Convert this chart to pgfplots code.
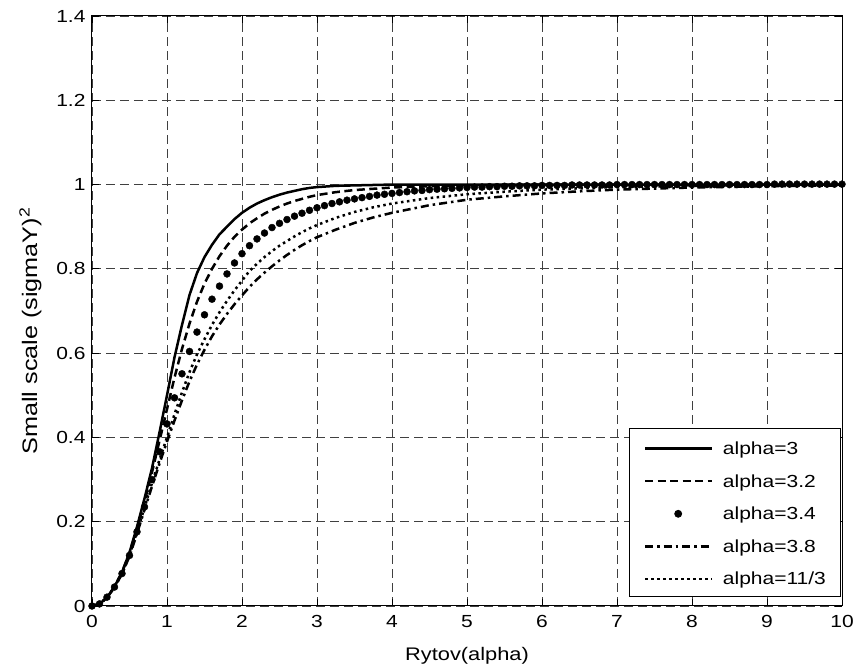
\documentclass[border=0pt]{standalone}
\usepackage{fontspec}
\setmainfont{Liberation Sans}[FakeStretch=1.2]
\usepackage{pgfplots}
\pgfplotsset{compat=1.18}

\begin{document}
\begin{tikzpicture}[font=\fontsize{17.5}{21}\selectfont]
\begin{axis}[
  name=ax,
  scale only axis,
  width=750pt, height=590pt,
  xmin=0, xmax=10, ymin=0, ymax=1.4,
  xtick={0,1,2,3,4,5,6,7,8,9,10},
  ytick={0,0.2,0.4,0.6,0.8,1,1.2,1.4},
  /pgf/number format/assume math mode=true,
  tick align=inside,
  major tick length=7pt,
  tick style={black, line width=0.8pt},
  axis line style={line width=1pt},
  grid=major,
  major grid style={black!75, line width=0.8pt, dash pattern=on 9pt off 5pt},
  xticklabel style={yshift=-6pt},
  yticklabel style={xshift=-3pt},
  xlabel={Rytov(alpha)},
  ylabel={Small scale (sigmaY)\textsuperscript{2}},
  xlabel style={at={(axis description cs:0.5,0)}, anchor=base, yshift=-55pt, font=\fontsize{18.2}{22}\selectfont},
  ylabel style={at={(axis description cs:-0.073,0.466)}, anchor=base, font=\fontsize{21}{25}\selectfont},
  legend image code/.code={\draw[mark repeat=2,mark phase=2,#1] plot coordinates {(0pt,6pt) (33pt,6pt) (66.7pt,6pt)}; \path (76.5pt,6pt);},
  legend style={at={(axis cs:10,0)}, anchor=south east, xshift=-1pt, yshift=9pt,
    draw=black, line width=0.8pt, inner xsep=14.7pt, inner ysep=6pt, row sep=7pt,
    column sep=0pt,
    nodes={inner xsep=0pt, inner ysep=0pt, text height=20pt, text depth=5.6pt, anchor=base west}},
  legend cell align=left,
]
% alpha=3
\addplot[black, line width=2.5pt] coordinates {
(0,0)(0.1,0.005)(0.2,0.02)(0.3,0.046)(0.4,0.08)(0.5,0.127)(0.6,0.188)(0.7,0.255)(0.8,0.327)(0.9,0.412)
(1.0,0.5)(1.1,0.59)(1.2,0.667)(1.3,0.738)(1.4,0.79)(1.5,0.828)(1.6,0.857)(1.7,0.882)(1.8,0.9)(1.9,0.918)
(2.0,0.933)(2.1,0.945)(2.2,0.955)(2.3,0.963)(2.4,0.97)(2.5,0.976)(2.6,0.981)(2.7,0.985)(2.8,0.989)(2.9,0.992)
(3.0,0.994)(3.25,0.997)(3.5,0.998)(3.75,0.999)(4,1)(5,1)(6,1)(7,1)(8,1)(9,1)(10,1)};
\addlegendentry{alpha=3}
% alpha=3.2
\addplot[black, line width=2.5pt, dash pattern=on 8pt off 4.5pt] coordinates {
(0,0)(0.1,0.005)(0.2,0.02)(0.3,0.046)(0.4,0.08)(0.5,0.126)(0.6,0.184)(0.7,0.247)(0.8,0.317)(0.9,0.392)
(1.0,0.467)(1.1,0.542)(1.2,0.61)(1.3,0.67)(1.4,0.722)(1.5,0.765)(1.6,0.8)(1.7,0.83)(1.8,0.855)(1.9,0.876)
(2.0,0.893)(2.1,0.908)(2.2,0.92)(2.3,0.931)(2.4,0.94)(2.5,0.948)(2.6,0.955)(2.7,0.961)(2.8,0.966)(2.9,0.971)
(3.0,0.975)(3.25,0.982)(3.5,0.987)(3.75,0.99)(4,0.993)(4.5,0.996)(5,0.998)(5.5,0.999)(6,1)(7,1)(8,1)(9,1)(10,1)};
\addlegendentry{alpha=3.2}
% alpha=3.4
\addplot[black, only marks, mark=*, mark size=3.5pt] coordinates {
(0,0)(0.1,0.005)(0.2,0.021)(0.3,0.045)(0.4,0.077)(0.5,0.12)(0.6,0.176)(0.7,0.235)(0.8,0.3)(0.9,0.366)
(1.0,0.432)(1.1,0.494)(1.2,0.551)(1.3,0.604)(1.4,0.65)(1.5,0.691)(1.6,0.728)(1.7,0.759)(1.8,0.788)(1.9,0.814)
(2.0,0.836)(2.1,0.855)(2.2,0.871)(2.3,0.885)(2.4,0.898)(2.5,0.908)(2.6,0.917)(2.7,0.925)(2.8,0.932)(2.9,0.939)
(3.0,0.945)(3.1,0.95)(3.2,0.955)(3.3,0.959)(3.4,0.963)(3.5,0.966)(3.6,0.969)(3.7,0.972)(3.8,0.975)(3.9,0.977)
(4.0,0.979)(4.1,0.981)(4.2,0.983)(4.3,0.985)(4.4,0.986)(4.5,0.988)(4.6,0.989)(4.7,0.99)(4.8,0.991)(4.9,0.992)
(5.0,0.993)(5.1,0.994)(5.2,0.994)(5.3,0.995)(5.4,0.995)(5.5,0.996)(5.6,0.996)(5.7,0.997)(5.8,0.997)(5.9,0.997)
(6.0,0.998)(6.1,0.998)(6.2,0.998)(6.3,0.998)(6.4,0.999)(6.5,0.999)(6.6,0.999)(6.7,0.999)(6.8,0.999)(6.9,0.999)
(7.0,1)(7.1,1)(7.2,1)(7.3,1)(7.4,1)(7.5,1)(7.6,1)(7.7,1)(7.8,1)(7.9,1)
(8.0,1)(8.1,1)(8.2,1)(8.3,1)(8.4,1)(8.5,1)(8.6,1)(8.7,1)(8.8,1)(8.9,1)
(9.0,1)(9.1,1.001)(9.2,1.001)(9.3,1.001)(9.4,1.001)(9.5,1.001)(9.6,1.001)(9.7,1.001)(9.8,1.001)(9.9,1.001)(10,1.001)};
\addlegendentry{alpha=3.4}
% alpha=3.8
\addplot[black, line width=2.5pt, dash pattern=on 8pt off 4pt on 2.5pt off 4pt] coordinates {
(0,0)(0.1,0.005)(0.2,0.02)(0.3,0.044)(0.4,0.076)(0.5,0.118)(0.6,0.172)(0.7,0.228)(0.8,0.284)(0.9,0.338)
(1.0,0.39)(1.1,0.44)(1.2,0.488)(1.3,0.533)(1.4,0.573)(1.5,0.608)(1.6,0.64)(1.7,0.668)(1.8,0.693)(1.9,0.716)
(2.0,0.737)(2.1,0.757)(2.2,0.775)(2.3,0.791)(2.4,0.806)(2.5,0.82)(2.6,0.833)(2.7,0.845)(2.8,0.856)(2.9,0.866)
(3.0,0.875)(3.25,0.893)(3.5,0.909)(3.75,0.922)(4,0.933)(4.5,0.951)(5,0.964)(5.5,0.972)(6,0.979)(6.5,0.984)
(7,0.988)(8,0.993)(9,0.996)(10,0.998)};
\addlegendentry{alpha=3.8}
% alpha=11/3
\addplot[black, line width=2.5pt, dash pattern=on 2.5pt off 3.5pt] coordinates {
(0,0)(0.1,0.005)(0.2,0.02)(0.3,0.045)(0.4,0.077)(0.5,0.12)(0.6,0.176)(0.7,0.233)(0.8,0.292)(0.9,0.347)
(1.0,0.4)(1.1,0.455)(1.2,0.507)(1.3,0.555)(1.4,0.597)(1.5,0.633)(1.6,0.667)(1.7,0.697)(1.8,0.724)(1.9,0.749)
(2.0,0.772)(2.1,0.795)(2.2,0.812)(2.3,0.828)(2.4,0.842)(2.5,0.855)(2.6,0.866)(2.7,0.877)(2.8,0.887)(2.9,0.896)
(3.0,0.904)(3.25,0.921)(3.5,0.935)(3.75,0.946)(4,0.955)(4.5,0.968)(5,0.977)(5.5,0.983)(6,0.988)(6.5,0.991)
(7,0.994)(8,0.997)(9,0.999)(10,1)};
\addlegendentry{alpha=11/3}
\end{axis}
\pgfresetboundingbox
\useasboundingbox ([xshift=-92pt,yshift=-65pt]ax.south west) rectangle ([xshift=12pt,yshift=16pt]ax.north east);
\end{tikzpicture}
\end{document}
